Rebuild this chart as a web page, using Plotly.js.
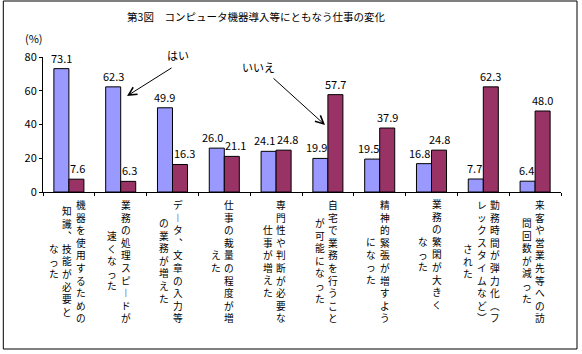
<!DOCTYPE html>
<html>
<head>
<meta charset="utf-8">
<script src="https://cdn.plot.ly/plotly-3.0.1.min.js"></script>
<style>html,body{margin:0;padding:0;background:#fff;}</style>
</head>
<body>
<div id="chart" style="width:582px;height:354px;"></div>
<script>
// ---- data ----
const labelColumns = [
  ["機器を使用するための", "知識、技能が必要と", "なった"],
  ["業務の処理スピードが", "速くなった"],
  ["データ、文章の入力等", "の業務が増えた"],
  ["仕事の裁量の程度が増", "えた"],
  ["専門性や判断が必要な", "仕事が増えた"],
  ["自宅で業務を行うこと", "が可能になった"],
  ["精神的緊張が増すよう", "になった"],
  ["業務の繁閑が大きく", "なった"],
  ["勤務時間が弾力化（フ", "レックスタイムなど）", "された"],
  ["来客や営業先等への訪", "問回数が減った"]
];
const categories = labelColumns.map(c => c.join(""));
const yesValues = [73.1, 62.3, 49.9, 26.0, 24.1, 19.9, 19.5, 16.8, 7.7, 6.4];
const noValues  = [7.6, 6.3, 16.3, 21.1, 24.8, 57.7, 37.9, 24.8, 62.3, 48.0];
const seriesNames = ["はい", "いいえ"];
const yTickValues = [0, 20, 40, 60, 80];
const chartTitle = "第3図　コンピュータ機器導入等にともなう仕事の変化";
const unitLabel = "(%)";

// ---- style ----
const JP = "Noto Sans CJK JP";
const BLUE = "#9999FF";
const MAROON = "#993366";
const W = 582, H = 354;
const M = {l: 43, r: 21, t: 57, b: 162};
const plotW = W - M.l - M.r, plotH = H - M.t - M.b;
const plotBottom = H - M.b;
const YMAX = 80;
const BARGAP = 0.42;
const px2x = p => (p - M.l) / plotW;
const py2y = p => (plotBottom - p) / plotH;

const traces = [
  {type: "bar", name: seriesNames[0], x: categories, y: yesValues,
   marker: {color: BLUE, line: {color: "#000", width: 1}}, hoverinfo: "skip"},
  {type: "bar", name: seriesNames[1], x: categories, y: noValues,
   marker: {color: MAROON, line: {color: "#000", width: 1}}, hoverinfo: "skip"}
];

const annotations = [];

// ---- value labels above bars (nudged sideways when they would hit a neighbour) ----
const VAL_SIZE = 11;
const ctx = document.createElement("canvas").getContext("2d");
ctx.font = VAL_SIZE + "px '" + JP + "'";
const textW = s => ctx.measureText(s).width;
const catW = plotW / categories.length;
const barW = catW * (1 - BARGAP) / 2;
const k = plotH / YMAX;             // px per unit
const GAP = 6, LABEL_H = 10;         // px
categories.forEach((cat, i) => {
  const vals = [yesValues[i], noValues[i]];
  const txt = vals.map(v => v.toFixed(1));
  const w = txt.map(textW);
  const shift = [0, 0];
  [0, 1].forEach(s => {
    const o = 1 - s;
    if (w[s] <= barW) return;
    const hitsBar = vals[o] * k > vals[s] * k + GAP;
    const hitsLabel = Math.abs(vals[o] - vals[s]) * k < LABEL_H && (w[s] + w[o]) / 2 > barW;
    if (hitsBar || hitsLabel) shift[s] = ((w[s] - barW) / 2 + 1) * (s === 0 ? -1 : 1);
  });
  [0, 1].forEach(s => {
    annotations.push({
      xref: "x", yref: "y", x: cat, y: vals[s],
      xshift: (s === 0 ? -barW / 2 : barW / 2) + shift[s], yshift: 1,
      text: txt[s], showarrow: false, xanchor: "center", yanchor: "bottom",
      font: {family: JP, size: VAL_SIZE, color: "#000"}
    });
  });
});

// ---- vertical (tategaki) category labels: one annotation per column, right to left ----
const LABEL_SIZE = 9.7;               // line pitch = 1.3 * size ≈ 12.6 px
const PITCH = 1.3 * LABEL_SIZE, COLSTEP = 13.5, LABEL_TOP = 198, XNUDGE = -1.6;
const VERT = {"ー": "︱", "、": "︑", "（": "︵", "）": "︶", "。": "︒"};
labelColumns.forEach((cols, ci) => {
  const nmax = Math.max(...cols.map(c => [...c].length));
  const blockCenter = LABEL_TOP + nmax * PITCH / 2;
  cols.forEach((col, j) => {
    const chars = [...col].map(ch => VERT[ch] || ch);
    const xOff = ((cols.length - 1) / 2 - j) * COLSTEP + XNUDGE;
    annotations.push({
      xref: "x", yref: "paper", x: categories[ci], y: 0,
      xshift: xOff, yshift: plotBottom - blockCenter,
      text: chars.join("<br>"), showarrow: false, align: "center",
      xanchor: "center", yanchor: "middle",
      font: {family: JP, size: LABEL_SIZE, color: "#000"}
    });
  });
});

// ---- unit label and series callouts ----
annotations.push({xref: "paper", yref: "paper", x: px2x(34), y: py2y(37.5),
  text: unitLabel, showarrow: false, xanchor: "center", yanchor: "middle",
  font: {family: JP, size: 11, color: "#000"}});
annotations.push({xref: "paper", yref: "paper", x: px2x(177.5), y: py2y(55),
  text: seriesNames[0], showarrow: false, xanchor: "center", yanchor: "middle",
  font: {family: JP, size: 11, color: "#000"}});
annotations.push({xref: "paper", yref: "paper", x: px2x(258), y: py2y(67),
  text: seriesNames[1], showarrow: false, xanchor: "center", yanchor: "middle",
  font: {family: JP, size: 11, color: "#000"}});
annotations.push({xref: "paper", yref: "paper", x: px2x(127), y: py2y(96),
  text: "", showarrow: true, ax: 46, ay: -29, arrowhead: 5, arrowsize: 1.6,
  arrowwidth: 1, arrowcolor: "#000"});
annotations.push({xref: "paper", yref: "paper", x: px2x(325), y: py2y(125),
  text: "", showarrow: true, ax: -53, ay: -48, arrowhead: 5, arrowsize: 1.6,
  arrowwidth: 1, arrowcolor: "#000"});

const layout = {
  width: W, height: H,
  margin: M,
  paper_bgcolor: "#fff", plot_bgcolor: "#fff",
  showlegend: false,
  barmode: "group", bargap: BARGAP, bargroupgap: 0,
  title: {text: chartTitle, x: 256 / W, xref: "container", xanchor: "center",
          y: 1 - 17 / H, yref: "container", yanchor: "middle",
          font: {family: JP, size: 10.5, color: "#000"}},
  xaxis: {type: "category", showticklabels: false, showline: true, linecolor: "#000",
          linewidth: 1, ticks: "outside", tickson: "boundaries", ticklen: 3,
          tickcolor: "#000", showgrid: false, zeroline: false, fixedrange: true},
  yaxis: {range: [0, YMAX], tickvals: yTickValues, ticktext: yTickValues.map(String),
          showline: true, linecolor: "#000", linewidth: 1, ticks: "outside",
          ticklen: 3, tickcolor: "#000", showgrid: false, zeroline: false,
          tickfont: {family: JP, size: 11, color: "#000"}, fixedrange: true},
  annotations: annotations,
  shapes: [{type: "rect", xref: "paper", yref: "paper",
            x0: px2x(3.3), x1: px2x(577), y0: py2y(349), y1: py2y(1),
            line: {color: "#000", width: 1}, fillcolor: "rgba(0,0,0,0)"}]
};

Plotly.newPlot("chart", traces, layout, {displayModeBar: false, staticPlot: true});
</script>
</body>
</html>
